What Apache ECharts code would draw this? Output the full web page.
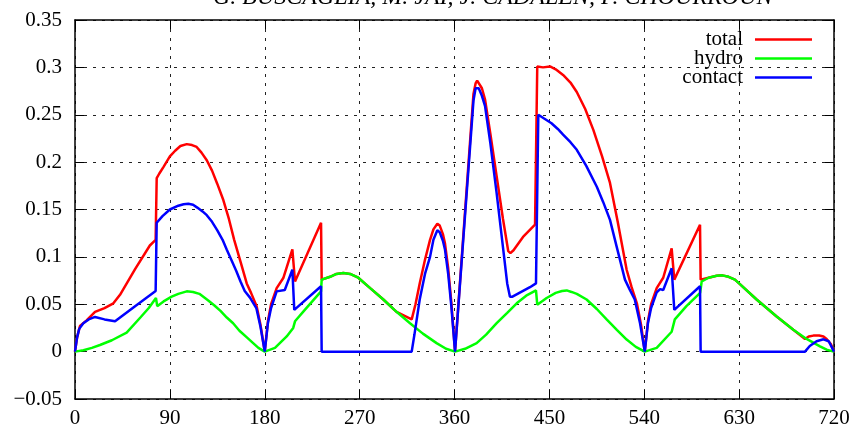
<!DOCTYPE html>
<html>
<head>
<meta charset="utf-8">
<script src="https://cdn.jsdelivr.net/npm/echarts@6/dist/echarts.min.js"></script>
<style>
  html, body { margin: 0; padding: 0; background: #fff; }
  #chart { width: 858px; height: 430px; }
</style>
</head>
<body>
<div id="chart"></div>
<script>
// angle (deg) -> value
const total = [
  [0,0],[2,0.015],[4.7,0.027],[11,0.033],[19,0.042],[28,0.046],[36.4,0.051],[42.7,0.060],
  [57,0.087],[71,0.112],[76.5,0.118],[77.5,0.183],[80,0.188],[84,0.195],[90,0.206],[95,0.212],
  [100,0.217],[106,0.219],[111,0.218],[115.4,0.216],[120,0.210],[125,0.202],[130,0.191],[135,0.177],
  [140.7,0.160],[146,0.140],[151,0.118],[157,0.095],[162.9,0.072],[167,0.062],[172.3,0.048],[176,0.028],[180,0],
  [183,0.032],[186,0.050],[191.3,0.067],[197.6,0.0777],[206.2,0.108],[208.7,0.074],[233.4,0.136],[234,0.076],
  [242,0.079],[248,0.082],[254.5,0.083],[261,0.082],[268.7,0.078],[280,0.067],[292.5,0.055],[305,0.042],
  [319.4,0.034],[323,0.050],[327,0.072],[332,0.097],[336.8,0.118],[340,0.129],[343.7,0.135],[346,0.133],
  [349,0.124],[351,0.114],[354,0.088],[357,0.052],[360.5,0],
  [378,0.272],[380,0.283],[381.5,0.286],[383,0.285],[386,0.278],[389,0.266],[394,0.230],[400,0.185],
  [406,0.140],[411,0.106],[413,0.104],[416,0.107],[425,0.121],[436.4,0.134],
  [438.5,0.301],[444,0.300],[450.6,0.301],[456,0.298],[463,0.292],[470,0.284],[476,0.274],[484,0.256],
  [491.7,0.234],[500,0.206],[507.5,0.178],[515,0.136],[523.3,0.0864],[528,0.068],[533,0.051],[537,0.028],[540.5,0],
  [543.5,0.032],[546.5,0.050],[551.8,0.067],[558,0.078],[566,0.109],[568.5,0.076],[592.9,0.134],[593.5,0.076],
  [601,0.078],[608.7,0.080],[614,0.0805],[620,0.079],[626,0.076],[631,0.071],[646.6,0.055],[665.6,0.037],
  [681.4,0.023],[692.5,0.0134],[696,0.016],[700.4,0.0169],[706,0.017],[710,0.016],[713,0.0134],[717,0.008],[720,0]
];
const hydro = [
  [0,0],[8,0.0015],[16,0.004],[23.7,0.007],[35,0.012],[49,0.020],[62,0.036],[70,0.046],[76.8,0.0566],
  [78,0.048],[84,0.053],[91.7,0.058],[98,0.061],[106,0.0636],[112,0.063],[118,0.061],[126.4,0.054],
  [132,0.049],[138,0.043],[144,0.036],[150,0.030],[156,0.022],[163,0.015],[169,0.009],[174,0.004],[180,0],
  [189.7,0.004],[200.8,0.016],[207,0.025],[208.7,0.032],[218,0.044],[233.4,0.0636],[234,0.076],
  [242,0.079],[248,0.082],[254.5,0.083],[261,0.082],[268.7,0.078],[280,0.067],[292.5,0.055],[305,0.042],
  [317.8,0.030],[330,0.019],[343,0.009],[352,0.003],[360.5,0],
  [370,0.003],[381,0.009],[390,0.018],[400,0.030],[410,0.041],[419,0.051],[428,0.059],[437.3,0.0646],
  [438.5,0.0495],[447.4,0.0566],[456,0.062],[462,0.064],[466.4,0.0646],[471,0.063],[476,0.061],
  [485.3,0.055],[495,0.045],[504.3,0.034],[514,0.023],[523.3,0.0127],[532,0.005],[540.5,0],
  [551.8,0.004],[566,0.021],[569,0.034],[580,0.048],[593,0.062],[594.5,0.074],[601,0.078],[608.7,0.080],
  [614,0.0805],[620,0.079],[626,0.076],[631,0.071],[646.6,0.055],[665.6,0.037],[681.4,0.023],
  [694,0.0134],[706.7,0.0056],[713,0.002],[720,0]
];
const contact = [
  [0,0],[2,0.015],[4,0.024],[7.9,0.030],[13,0.034],[19,0.0366],[28,0.034],[38,0.032],[57,0.048],
  [76.5,0.064],[77.5,0.136],[83,0.143],[90,0.150],[98,0.154],[103,0.1555],[107.5,0.156],[112,0.155],
  [116,0.152],[121,0.148],[125,0.144],[130,0.137],[135,0.128],[140,0.118],[144,0.1075],[149,0.095],
  [153,0.085],[157,0.074],[161,0.064],[166,0.057],[172,0.046],[176,0.026],[180,0],
  [183,0.030],[186,0.046],[191.3,0.0636],[199,0.065],[206.2,0.0865],[208,0.044],[233.4,0.069],[234,0],
  [319.4,0],[322,0.018],[327,0.055],[332,0.082],[336.8,0.100],[340,0.118],[343.7,0.128],[346,0.126],
  [349,0.117],[351,0.1075],[354,0.082],[357,0.048],[360.5,0],
  [378,0.265],[380,0.278],[381,0.280],[383,0.278],[386,0.270],[389,0.259],[394,0.220],[400,0.167],
  [406,0.110],[410,0.072],[412.6,0.058],[415,0.058],[431.6,0.068],[437.3,0.072],
  [439.5,0.250],[445,0.246],[452,0.241],[458,0.235],[463,0.229],[470,0.221],[476,0.213],[485,0.196],
  [495,0.174],[501,0.158],[507.5,0.139],[514,0.110],[521.7,0.076],[526,0.066],[531,0.055],[536,0.030],[540.5,0],
  [543.5,0.030],[546.5,0.046],[551.8,0.0625],[555,0.066],[558,0.065],[566,0.088],[568.5,0.044],
  [592.9,0.069],[593.5,0],[692.5,0],[697,0.006],[703.5,0.011],[710,0.013],[715,0.011],[720,0]
];
const seriesNames = ['total', 'hydro', 'contact'];
const seriesColors = ['#ff0000', '#00ff00', '#0000ff'];
const xTicks = {min: 0, max: 720, step: 90};
const yTicks = {min: -0.05, max: 0.35, step: 0.05};
const titleText = 'G. BUSCAGLIA, M. JAI, J. CADALEN, P. CHOURROUN';

const FONT = '"Liberation Serif", "DejaVu Serif", serif';

let chart = echarts.init(document.getElementById('chart'), null, {renderer: 'canvas'});

function fmtY(v) {
    let s = String(parseFloat(v.toFixed(2)));
    return s.replace('-', '\u2212');
}

let dash = {show: true, lineStyle: {color: '#222', width: 1, type: [3, 6]}};
let frame = {show: true, onZero: false, lineStyle: {color: '#000', width: 1.5}};
let labelStyle = {color: '#000', fontFamily: FONT, fontSize: 21};

function xAxis(pos, main) {
    return {
        type: 'value', position: pos, min: xTicks.min, max: xTicks.max, interval: xTicks.step,
        axisLine: frame,
        axisTick: {show: true, inside: true, length: 9, lineStyle: {color: '#000', width: 1}},
        axisLabel: Object.assign({show: main, margin: 9}, labelStyle),
        splitLine: main ? dash : {show: false}
    };
}
function yAxis(pos, main) {
    return {
        type: 'value', position: pos, min: yTicks.min, max: yTicks.max, interval: yTicks.step,
        axisLine: frame,
        axisTick: {show: true, inside: true, length: 9, lineStyle: {color: '#000', width: 1}},
        axisLabel: Object.assign({show: main, margin: 13, formatter: fmtY}, labelStyle),
        splitLine: main ? dash : {show: false}
    };
}

let seriesData = [total, hydro, contact];
let legendTops = [29, 48, 67];

let option = {
    animation: false,
    backgroundColor: '#fff',
    title: {
        text: titleText, left: 213, top: -14, padding: 0,
        textStyle: {fontFamily: FONT, fontStyle: 'italic', fontWeight: 'normal', fontSize: 24, color: '#000'}
    },
    grid: {left: 75, right: 24, top: 20, bottom: 31, containLabel: false},
    xAxis: [xAxis('bottom', true), xAxis('top', false)],
    yAxis: [yAxis('left', true), yAxis('right', false)],
    legend: seriesNames.map((name, i) => ({
        data: [name], right: 46, top: legendTops[i], align: 'right', padding: 0,
        icon: 'rect', itemWidth: 57, itemHeight: 2.5, selectedMode: false,
        textStyle: {fontFamily: FONT, fontSize: 21, color: '#000', padding: [0, 7, 0, 0]}
    })),
    series: seriesNames.map((name, i) => ({
        name: name, type: 'line', data: seriesData[i],
        xAxisIndex: 0, yAxisIndex: 0,
        symbol: 'none', smooth: false, z: 3 + (i === 2 ? 1 : 0),
        lineStyle: {color: seriesColors[i], width: 2.5},
        itemStyle: {color: seriesColors[i]}
    }))
};

chart.setOption(option);
window.addEventListener('resize', () => {
    chart.resize();
});
</script>
</body>
</html>
